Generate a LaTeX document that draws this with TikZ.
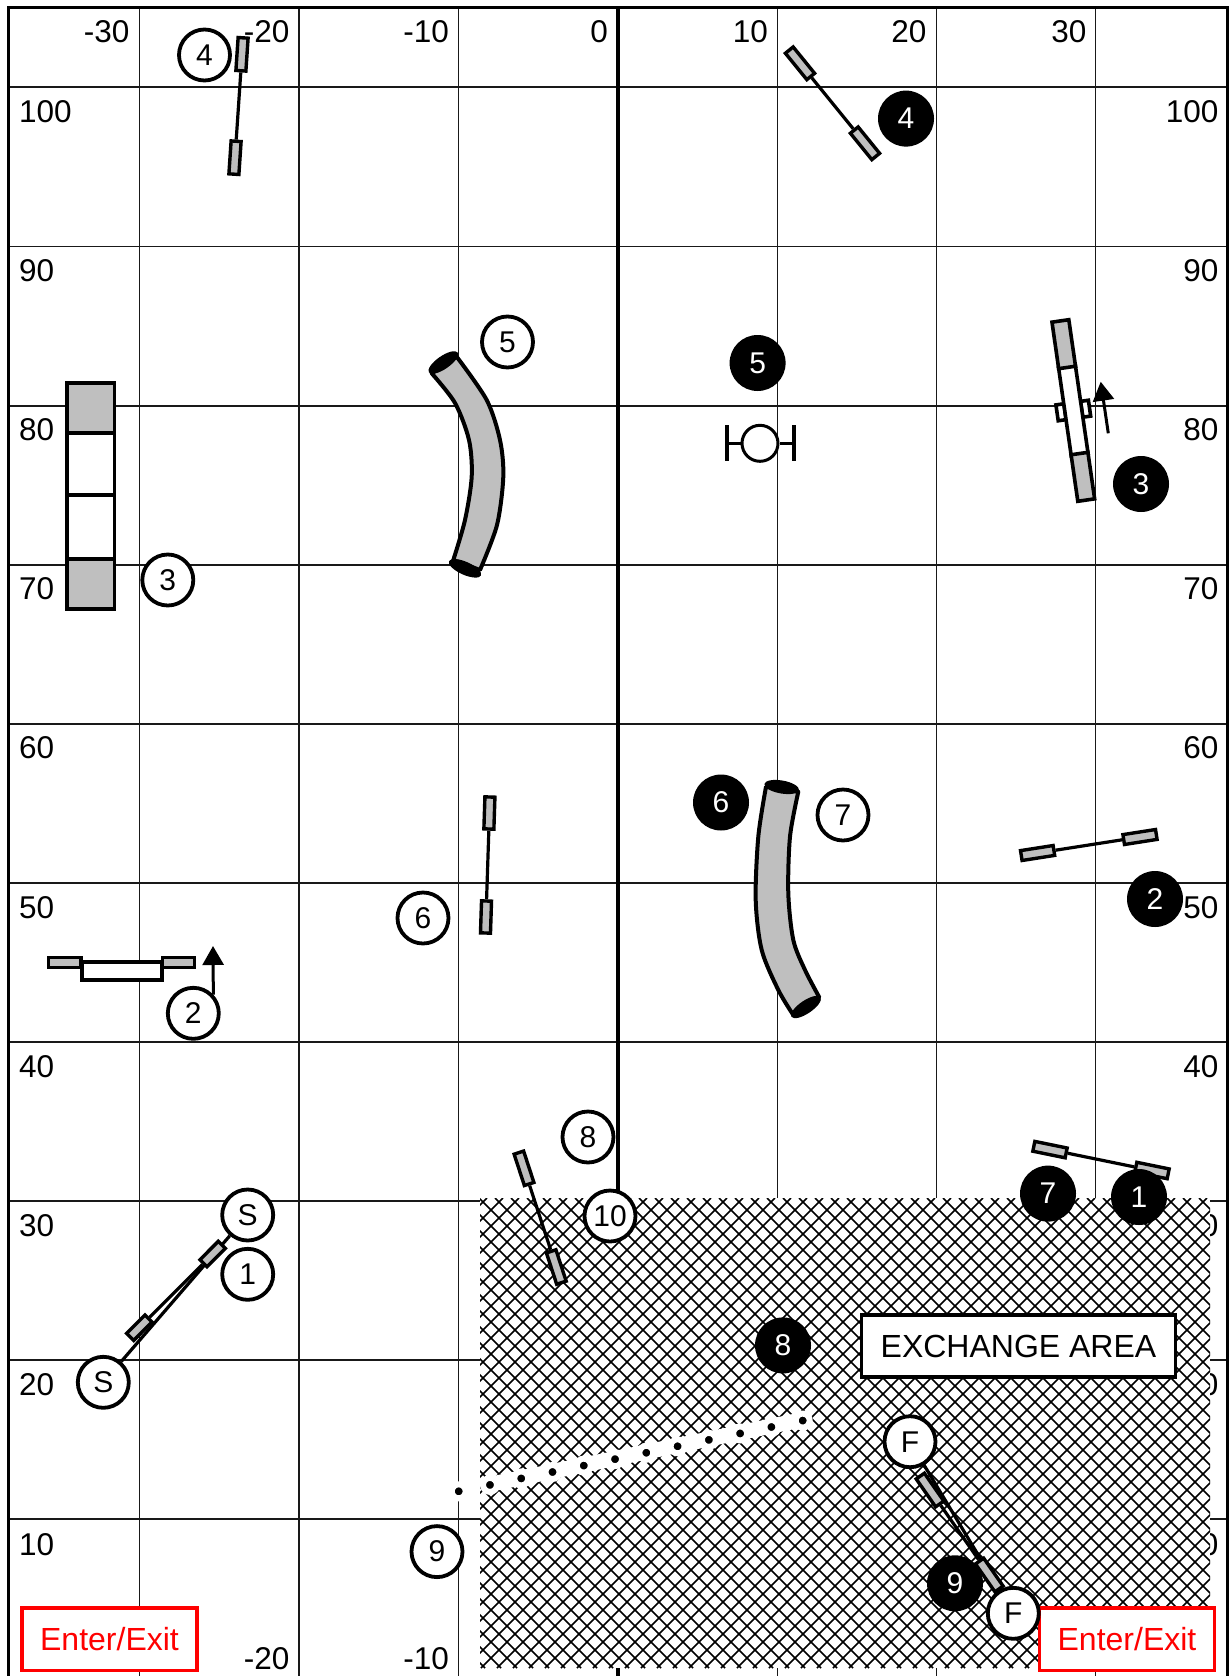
\documentclass[tikz,border=0pt]{standalone}
\usepackage{fontspec}
\setmainfont{Liberation Sans}
\usetikzlibrary{arrows.meta,shapes.geometric}
\definecolor{wingfill}{RGB}{191,191,191}
\tikzset{
  course/grid/.style={line width=1.4pt, black!90},
  course/frame/.style={line width=3pt},
  course/axis/.style={font=\fontsize{31.5}{36}\selectfont, inner sep=0pt},
  course/num/.style={draw, circle, fill=white, line width=3.8pt, minimum size=51pt, inner sep=0pt, font=\fontsize{30}{34}\selectfont},
  course/numdark/.style={circle, fill=black, text=white, minimum size=56pt, inner sep=0pt, font=\fontsize{30}{34}\selectfont},
  course/wing/.style={draw, fill=wingfill, line width=3.4pt, minimum height=10pt, inner sep=0pt},
  course/bar/.style={line width=3.2pt},
  course/hatch/.style={line width=1.6pt},
  course/tunnel/.style={draw, fill=wingfill, line width=4pt, line join=round},
  course/tunnelend/.style={ellipse, fill=black, minimum width=35pt, minimum height=13pt, inner sep=0pt},
  course/panel/.style={draw, line width=3.6pt, inner sep=0pt},
  course/arrow/.style={line width=3pt, -{Triangle[width=21pt,length=19pt]}},
  course/gate/.style={draw=red, fill=white, line width=3.5pt, text=red, minimum width=175pt, minimum height=62.5pt, inner sep=0pt, font=\fontsize{32}{38}\selectfont},
  course/zone/.style={draw, fill=white, line width=3.8pt, minimum width=314pt, minimum height=62pt, inner sep=0pt, font=\fontsize{32}{38}\selectfont},
  course/dot/.style={circle, fill=black, draw=white, line width=6pt, minimum size=14pt, inner sep=0pt}
}

\begin{document}
\begin{tikzpicture}[x=1pt, y=-1pt]
  \path[use as bounding box, fill=white] (0,0) rectangle (1231,1676);

  \foreach \gx in {139.5,299,458.5,777.5,936.5,1095.5}
    \draw[course/grid] (\gx,7) -- (\gx,1676);
  \foreach \gy in {87,246.5,406,565,724,883,1042,1201,1360,1519}
    \draw[course/grid] (8,\gy) -- (1227,\gy);
  \draw[line width=4.5pt] (618,7) -- (618,1676);
  \draw[course/frame] (8,1676) -- (8,7) -- (1227,7) -- (1227,1676);

  \foreach \nm/\tx/\gx/\gy in {tm30/-30/129.5/32, tm20/-20/289.5/32, tm10/-10/449/32, t0/0/608/32, t10/10/768/32, t20/20/926.5/32, t30/30/1086.5/32, bm20/-20/289.5/1659, bm10/-10/449/1659}
    \node[course/axis, anchor=east] (\nm) at (\gx,\gy) {\tx};
  \foreach \tx/\gy in {100/112, 90/271, 80/430, 70/589, 60/748, 50/908, 40/1067, 30/1226, 20/1385, 10/1545}{
    \node[course/axis, anchor=west] (l\tx) at (19,\gy) {\tx};
    \node[course/axis, anchor=east] (r\tx) at (1218.5,\gy) {\tx};
  }

  \fill[white] (480,1198) rectangle (1210,1668);
  \begin{scope}
    \clip (480,1198) rectangle (1210,1668);
    \foreach \k in {-1,...,75}
      \draw[course/hatch] ({487+16*\k},1198) -- ({17+16*\k},1668);
    \foreach \k in {-30,...,46}
      \draw[course/hatch] ({479+16*\k},1198) -- ({949+16*\k},1668);
  \end{scope}

  \coordinate (bandstart) at (490,1484.3);
  \coordinate (bandend) at (802.7,1419.6);
  \draw[white, line width=15pt] (bandstart) -- (bandend);
  \foreach \i in {0,...,11}
    \node[course/dot] (dot\i) at ({458.7+31.27*\i},{1491.3-6.43*\i}) {};

  \node[course/gate] (gateL) at (109.5,1639) {Enter/Exit};
  \node[course/gate] (gateR) at (1127,1639) {Enter/Exit};
  \node[course/zone] (zone) at (1018.5,1346) {EXCHANGE AREA};

  \foreach \nm/\tx/\cx/\cy in {sA/S/247.7/1215, sB/S/103.3/1382.3, fA/F/910/1441.7, fB/F/1013.3/1613.3}
    \node[course/num] (\nm) at (\cx,\cy) {\tx};
  \draw[course/bar] (sA) -- (sB);
  \draw[course/bar] (fA) -- (fB);

  \foreach \nm/\xa/\ya/\xb/\yb/\len in {jfour/242/54.3/235/157.7/33, jfourb/800/63.3/865/143.3/34, jsix/489.4/813/486/917/32, jtwob/1037.6/853/1140/837/33, jone/1050/1149.6/1152/1170.5/33, jeight/524/1168.3/556.3/1267/33, jstart/139.3/1327.7/212.7/1254/26, jnine/930/1490/989.3/1575/34}{
    \pgfmathsetmacro{\ang}{atan2(\ya-\yb,\xb-\xa)}
    \node[course/wing, minimum width=\len pt, rotate=\ang] (\nm a) at (\xa,\ya) {};
    \node[course/wing, minimum width=\len pt, rotate=\ang] (\nm b) at (\xb,\yb) {};
    \draw[course/bar] (\nm a) -- (\nm b);
  }

  \foreach \nm/\tx/\cx/\cy in {wfour/4/204.5/55, wfive/5/507.5/342, wthree/3/167.8/580, wtwo/2/193.3/1013.3, wsix/6/423/918, wseven/7/843/815, weight/8/588/1137, wten/10/610/1216, wone/1/247.7/1274.3, wnine/9/437/1551.6}
    \node[course/num] (\nm) at (\cx,\cy) {\tx};
  \foreach \nm/\tx/\cx/\cy in {dfour/4/906/118.6, dfive/5/757.6/363, dthree/3/1141/484, dsix/6/721/802.5, dtwo/2/1155/899, dseven/7/1048/1193.6, done/1/1139/1197, deight/8/783/1345.4, dnine/9/955/1583.3}
    \node[course/numdark] (\nm) at (\cx,\cy) {\tx};

  \node[course/panel, fill=wingfill, minimum width=47.5pt, minimum height=50.5pt] (frameA) at (90.7,408) {};
  \node[course/panel, fill=white, minimum width=47.5pt, minimum height=62.5pt] (frameB) at (90.7,464) {};
  \node[course/panel, fill=white, minimum width=47.5pt, minimum height=64.5pt] (frameC) at (90.7,527) {};
  \node[course/panel, fill=wingfill, minimum width=47.5pt, minimum height=50.5pt] (frameD) at (90.7,584) {};

  \node[course/wing, minimum width=32.5pt] (wingL) at (64.8,962.5) {};
  \node[course/wing, minimum width=32.5pt] (wingR) at (178.5,962.5) {};
  \node[course/panel, fill=white, minimum width=80pt, minimum height=18pt] (panel) at (122,971) {};
  \coordinate (tiptwo) at (213,946);
  \draw[course/arrow] (wtwo.43) -- (tiptwo);

  \begin{scope}[shift={(1073.3,410.5)}, rotate=8.2, transform shape]
    \node[course/panel, fill=white, minimum width=8pt, minimum height=16pt] (padL) at (-12.4,0) {};
    \node[course/panel, fill=white, minimum width=8pt, minimum height=16pt] (padR) at (12.4,0) {};
    \node[course/panel, fill=white, minimum width=17pt, minimum height=89pt] (walkM) at (0,0) {};
    \node[course/panel, fill=wingfill, minimum width=17pt, minimum height=47pt] (walkT) at (0,-67) {};
    \node[course/panel, fill=wingfill, minimum width=17pt, minimum height=47pt] (walkB) at (0,67) {};
  \end{scope}
  \coordinate (walktail) at (1108.3,433.3);
  \coordinate (walktip) at (1100.7,381.7);
  \draw[course/arrow] (walktail) -- (walktip);

  \node[draw, circle, line width=3pt, minimum size=36pt, inner sep=0pt] (tire) at (760,443.3) {};
  \node[fill=black, minimum width=3.8pt, minimum height=36pt, inner sep=0pt] (tireL) at (726.7,443.3) {};
  \node[fill=black, minimum width=3.8pt, minimum height=36pt, inner sep=0pt] (tireR) at (794,443.3) {};
  \draw[course/bar] (tireL) -- (tire);
  \draw[course/bar] (tireR) -- (tire);

  \draw[course/tunnel] plot[smooth] coordinates {(431.7,373.3) (455,403) (469,440) (471.7,476.7) (465,520) (453.3,560)}
    -- plot[smooth] coordinates {(480,570) (497,525) (503.3,476.7) (500,440) (486.7,400) (456.7,356.7)} -- cycle;
  \node[course/tunnelend, rotate=34.6] (tunAtop) at (443.3,362.5) {};
  \node[course/tunnelend, rotate=-24] (tunAbot) at (465,568.3) {};

  \draw[course/tunnel] plot[smooth] coordinates {(766,786.7) (758.3,836.7) (755.7,900) (761.7,950) (778.3,990) (793.3,1015)}
    -- plot[smooth] coordinates {(819.3,997.3) (805,970) (793.3,940) (788.3,893.3) (790,836.7) (798.3,791.7)} -- cycle;
  \node[course/tunnelend, rotate=-10] (tunBtop) at (781.7,787) {};
  \node[course/tunnelend, rotate=34] (tunBbot) at (806,1007) {};
\end{tikzpicture}
\end{document}
